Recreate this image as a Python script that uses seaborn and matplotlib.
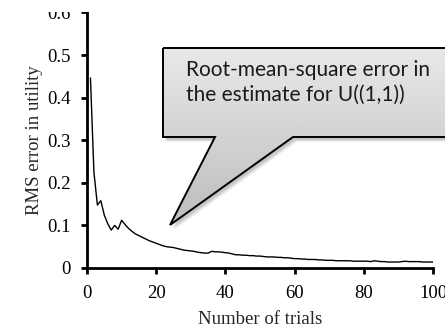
import numpy as np
import pandas as pd
import matplotlib
matplotlib.use("Agg")
import matplotlib.pyplot as plt
import seaborn as sns
from matplotlib.patches import Polygon, Rectangle

trials = list(range(1, 101))
rms_error = [
    0.446, 0.225, 0.148, 0.158, 0.124, 0.104, 0.089, 0.100, 0.091, 0.112,
    0.102, 0.093, 0.086, 0.080, 0.076, 0.072, 0.068, 0.064, 0.061, 0.058,
    0.055, 0.052, 0.050, 0.049, 0.048, 0.046, 0.044, 0.042, 0.041, 0.040,
    0.039, 0.037, 0.036, 0.035, 0.035, 0.039, 0.038, 0.038, 0.037, 0.036,
    0.035, 0.033, 0.031, 0.031, 0.030, 0.030, 0.029, 0.029, 0.028, 0.028,
    0.027, 0.026, 0.026, 0.026, 0.025, 0.025, 0.024, 0.024, 0.023, 0.022,
    0.022, 0.021, 0.021, 0.020, 0.020, 0.020, 0.019, 0.019, 0.018, 0.018,
    0.018, 0.017, 0.017, 0.017, 0.017, 0.017, 0.016, 0.016, 0.016, 0.016,
    0.016, 0.015, 0.017, 0.016, 0.015, 0.015, 0.014, 0.014, 0.014, 0.014,
    0.015, 0.016, 0.015, 0.015, 0.015, 0.015, 0.014, 0.014, 0.014, 0.014,
]
x_ticks = [0, 20, 40, 60, 80, 100]
y_ticks = [0, 0.1, 0.2, 0.3, 0.4, 0.5, 0.6]
y_tick_labels = ["0", "0.1", "0.2", "0.3", "0.4", "0.5", "0.6"]
x_label = "Number of trials"
y_label = "RMS error in utility"
callout_text = "Root-mean-square error in\nthe estimate for U((1,1))"

df = pd.DataFrame({"trials": trials, "rms": rms_error})

sns.set_theme(style="ticks")
plt.rcParams["font.family"] = ["Liberation Serif", "DejaVu Serif"]

W, H = 445, 326
fig = plt.figure(figsize=(W / 100, H / 100), dpi=100)
fig.patch.set_facecolor("white")
ax = fig.add_axes([87 / W, 1 - 268 / H, (433 - 87) / W, (268 - 12.4) / H])
ax.set_facecolor("white")

sns.lineplot(data=df, x="trials", y="rms", ax=ax, color="black", linewidth=1.0)

ax.set_xlim(0, 100)
ax.set_ylim(0, 0.6)
ax.set_xticks(x_ticks)
ax.set_xticklabels([str(t) for t in x_ticks])
ax.set_yticks(y_ticks)
ax.set_yticklabels(y_tick_labels)
ax.set_xlabel(x_label, fontsize=13.5, labelpad=7)
ax.set_ylabel(y_label, fontsize=13.5, labelpad=3)
for s in ["top", "right"]:
    ax.spines[s].set_visible(False)
for s in ["left", "bottom"]:
    ax.spines[s].set_linewidth(2)
    ax.spines[s].set_color("black")
ax.tick_params(axis="both", direction="out", length=4, width=2, colors="black",
               labelsize=13.5, pad=8)
for lab in ax.get_xticklabels() + ax.get_yticklabels():
    lab.set_color("black")

# overlay in pixel coordinates
ov = fig.add_axes([0, 0, 1, 1], zorder=5)
ov.set_xlim(0, W)
ov.set_ylim(H, 0)
ov.axis("off")
ov.patch.set_alpha(0)

# top strip of the original picture is cropped away
ov.add_patch(Rectangle((0, 0), W, 11.5, facecolor="white", edgecolor="none", zorder=0))

shape = [(163, 48), (450, 48), (450, 137), (293, 137), (170, 225), (215, 137), (163, 137)]
for off, a in [(5, 0.06), (4, 0.08), (3, 0.10)]:
    ov.add_patch(Polygon([(x + off - 1, y + off) for x, y in shape], closed=True,
                         facecolor="#000000", alpha=a, edgecolor="none"))
fill = Polygon(shape, closed=True, facecolor="none", edgecolor="none")
ov.add_patch(fill)
grad = np.linspace(0.91, 0.74, 256).reshape(-1, 1)
im = ov.imshow(grad, cmap="gray", vmin=0, vmax=1, extent=(163, 450, 225, 48),
               aspect="auto", zorder=1)
im.set_clip_path(fill)
poly = Polygon(shape, closed=True, facecolor="none", edgecolor="black",
               linewidth=1.4, zorder=2)
ov.add_patch(poly)
ov.set_xlim(0, W)
ov.set_ylim(H, 0)

ov.text(186, 60, callout_text, fontsize=15, family=["Lato", "DejaVu Sans"],
        va="top", ha="left", color="#1a1a1a", linespacing=1.3, zorder=3)

fig.savefig("out.png", dpi=100)
